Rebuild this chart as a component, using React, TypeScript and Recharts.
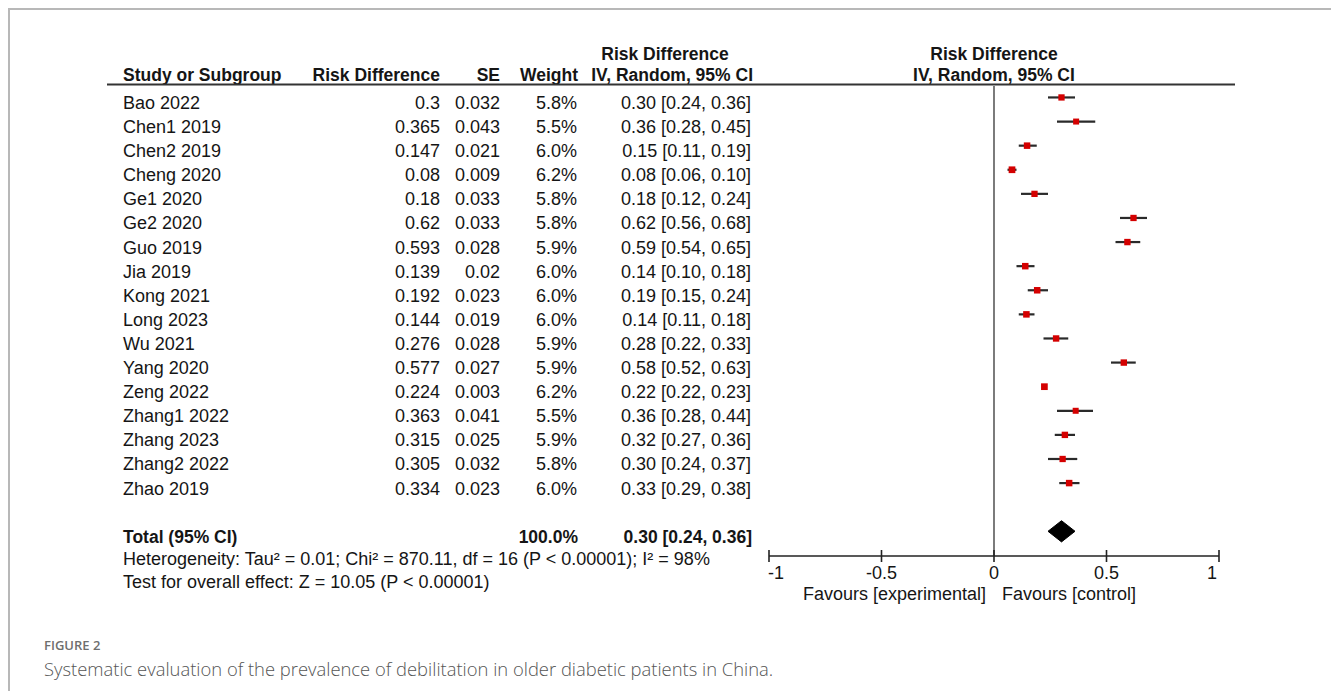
import React from 'react';
import { ComposedChart, Scatter, Area, XAxis, YAxis, ReferenceLine, ErrorBar } from 'recharts';

const studies = ['Bao 2022', 'Chen1 2019', 'Chen2 2019', 'Cheng 2020', 'Ge1 2020', 'Ge2 2020', 'Guo 2019', 'Jia 2019', 'Kong 2021', 'Long 2023', 'Wu 2021', 'Yang 2020', 'Zeng 2022', 'Zhang1 2022', 'Zhang 2023', 'Zhang2 2022', 'Zhao 2019'];
const riskDiff = [0.3, 0.365, 0.147, 0.08, 0.18, 0.62, 0.593, 0.139, 0.192, 0.144, 0.276, 0.577, 0.224, 0.363, 0.315, 0.305, 0.334];
const stdErr = [0.032, 0.043, 0.021, 0.009, 0.033, 0.033, 0.028, 0.02, 0.023, 0.019, 0.028, 0.027, 0.003, 0.041, 0.025, 0.032, 0.023];
const weights = [5.8, 5.5, 6.0, 6.2, 5.8, 5.8, 5.9, 6.0, 6.0, 6.0, 5.9, 5.9, 6.2, 5.5, 5.9, 5.8, 6.0];
const ciLow = [0.24, 0.28, 0.11, 0.06, 0.12, 0.56, 0.54, 0.10, 0.15, 0.11, 0.22, 0.52, 0.22, 0.28, 0.27, 0.24, 0.29];
const ciHigh = [0.36, 0.45, 0.19, 0.10, 0.24, 0.68, 0.65, 0.18, 0.24, 0.18, 0.33, 0.63, 0.23, 0.44, 0.36, 0.37, 0.38];

const totalLabel = 'Total (95% CI)';
const totalWeight = 100.0;
const totalEst = 0.30;
const totalLow = 0.24;
const totalHigh = 0.36;

const xTicks = [-1, -0.5, 0, 0.5, 1];
const heterogeneityText = 'Heterogeneity: Tau² = 0.01; Chi² = 870.11, df = 16 (P < 0.00001); I² = 98%';
const overallText = 'Test for overall effect: Z = 10.05 (P < 0.00001)';
const favourLeft = 'Favours [experimental]';
const favourRight = 'Favours [control]';
const headerTop = 'Risk Difference';
const headerCols = ['Study or Subgroup', 'Risk Difference', 'SE', 'Weight', 'IV, Random, 95% CI'];
const captionLabel = 'FIGURE 2';
const captionText = 'Systematic evaluation of the prevalence of debilitation in older diabetic patients in China.';

const FONT = "Arial, 'Liberation Sans', sans-serif";
const TXT = '#151515';
const FS = 18;

const COL = { name: 123, rd: 440, se: 500, weight: 577, ci: 751 };

const fmtCI = (e: number, l: number, h: number) => `${e.toFixed(2)} [${l.toFixed(2)}, ${h.toFixed(2)}]`;

const studyData = studies.map((name, i) => ({
  name,
  x: riskDiff[i],
  row: i,
  rd: String(riskDiff[i]),
  se: String(stdErr[i]),
  weight: weights[i],
  ci: fmtCI(riskDiff[i], ciLow[i], ciHigh[i]),
  err: [riskDiff[i] - ciLow[i], ciHigh[i] - riskDiff[i]],
}));

const TOTAL_ROW = studies.length + 1;
const DIAMOND_HALF = 0.44;

const totalData = [{ name: totalLabel, x: totalEst, row: TOTAL_ROW, weight: totalWeight, ci: fmtCI(totalEst, totalLow, totalHigh) }];

const diamondData = [
  { x: totalLow, r: [TOTAL_ROW, TOTAL_ROW] },
  { x: totalEst, r: [TOTAL_ROW - DIAMOND_HALF, TOTAL_ROW + DIAMOND_HALF] },
  { x: totalHigh, r: [TOTAL_ROW, TOTAL_ROW] },
];

const txt = (x: number, y: number, s: string, anchor: 'start' | 'end' | 'middle', bold = false, key?: string) => (
  <text key={key} x={x} y={y} textAnchor={anchor} fontFamily={FONT} fontSize={bold ? 17.5 : FS} fontWeight={bold ? 'bold' : 'normal'} fill={TXT}>
    {s}
  </text>
);

const StudyShape = (props: any) => {
  const { cx, cy, payload } = props;
  const s = payload.weight + 0.5;
  const ty = cy + 11.5;
  return (
    <g>
      <rect x={cx - s / 2} y={cy - s / 2} width={s} height={s} fill="#d40000" />
      {txt(COL.name, ty, payload.name, 'start')}
      {txt(COL.rd, ty, payload.rd, 'end')}
      {txt(COL.se, ty, payload.se, 'end')}
      {txt(COL.weight, ty, payload.weight.toFixed(1) + '%', 'end')}
      {txt(COL.ci, ty, payload.ci, 'end')}
    </g>
  );
};

const TotalShape = (props: any) => {
  const { cy, payload } = props;
  const ty = cy + 11.5;
  return (
    <g>
      {txt(COL.name, ty, payload.name, 'start', true)}
      {txt(COL.weight + 1, ty, payload.weight.toFixed(1) + '%', 'end', true)}
      {txt(COL.ci + 1, ty, payload.ci, 'end', true)}
    </g>
  );
};

const AxisTick = (props: any) => {
  const { x, y, payload } = props;
  const v = payload.value;
  const anchor = v <= -1 ? 'start' : v >= 1 ? 'end' : 'middle';
  const dx = v <= -1 ? -1 : v >= 1 ? -2 : 0;
  return (
    <g>
      <line x1={x} x2={x} y1={y - 6} y2={y + 6} stroke="#222" strokeWidth={1.6} />
      <text x={x + dx} y={y + 23} textAnchor={anchor} fontFamily={FONT} fontSize={FS} fill={TXT}>
        {String(v)}
      </text>
    </g>
  );
};

const FavoursLabel = (props: any) => {
  const vb = props.viewBox || {};
  const mid = vb.x + vb.width / 2;
  const y = vb.y + 44;
  return (
    <g>
      <text x={mid - 8} y={y} textAnchor="end" fontFamily={FONT} fontSize={FS} fill={TXT}>{favourLeft}</text>
      <text x={mid + 8} y={y} textAnchor="start" fontFamily={FONT} fontSize={FS} fill={TXT}>{favourRight}</text>
    </g>
  );
};

export default function App() {
  return (
    <div style={{ position: 'fixed', left: 0, top: 0, width: 1331, height: 691, overflow: 'hidden', background: '#fff' }}>
      <div style={{ position: 'absolute', left: 8, top: 8, width: 1323, height: 683, borderTop: '2px solid #b8b8b8', borderLeft: '2px solid #b8b8b8', boxSizing: 'border-box' }} />
      <div style={{ position: 'absolute', left: 0, top: 0 }}>
        <ComposedChart width={1331} height={620} data={diamondData} margin={{ top: 86, right: 112, bottom: 20, left: 769 }}>
          <XAxis
            type="number"
            dataKey="x"
            domain={[-1, 1]}
            ticks={xTicks}
            interval={0}
            height={44}
            tickLine={false}
            tickSize={0}
            tickMargin={0}
            axisLine={{ stroke: '#222', strokeWidth: 1.6 }}
            tick={<AxisTick />}
            label={<FavoursLabel />}
          />
          <YAxis type="number" hide reversed domain={[-0.475, 19.025]} />
          <ReferenceLine x={0} stroke="#444" strokeWidth={1.4} />
          <Area dataKey="r" type="linear" fill="#000" fillOpacity={1} stroke="#000" strokeWidth={1} isAnimationActive={false} dot={false} activeDot={false} />
          <Scatter data={studyData} dataKey="row" shape={<StudyShape />} isAnimationActive={false}>
            <ErrorBar dataKey="err" direction="x" width={0} stroke="#2a2a2a" strokeWidth={2.2} />
          </Scatter>
          <Scatter data={totalData} dataKey="row" shape={<TotalShape />} isAnimationActive={false} />
        </ComposedChart>
      </div>
      <svg width={1331} height={620} style={{ position: 'absolute', left: 0, top: 0, pointerEvents: 'none' }}>
        {txt(665, 60, headerTop, 'middle', true)}
        {txt(994, 60, headerTop, 'middle', true)}
        {txt(COL.name, 81, headerCols[0], 'start', true)}
        {txt(COL.rd, 81, headerCols[1], 'end', true)}
        {txt(COL.se, 81, headerCols[2], 'end', true)}
        {txt(COL.weight + 1, 81, headerCols[3], 'end', true)}
        {txt(COL.ci + 2, 81, headerCols[4], 'end', true)}
        {txt(994, 81, headerCols[4], 'middle', true)}
        <line x1={107} x2={1235} y1={84.5} y2={84.5} stroke="#333" strokeWidth={2} />
        {txt(COL.name, 565, heterogeneityText, 'start')}
        {txt(COL.name, 588, overallText, 'start')}
      </svg>
      <div style={{ position: 'absolute', left: 44, top: 636, fontFamily: "'Open Sans', sans-serif", fontSize: 13, fontWeight: 600, color: '#6e6e6e' }}>
        {captionLabel}
      </div>
      <div style={{ position: 'absolute', left: 44, top: 656, fontFamily: "'Open Sans', sans-serif", fontSize: 18.4, fontWeight: 300, color: '#555' }}>
        {captionText}
      </div>
    </div>
  );
}
